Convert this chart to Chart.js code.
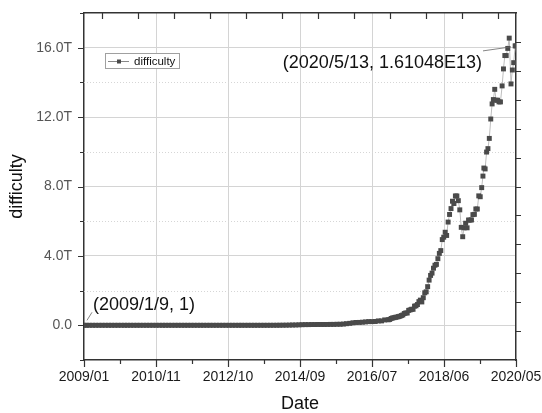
<!DOCTYPE html>
<html>
<head>
<meta charset="utf-8">
<title>difficulty</title>
<script src="https://cdn.jsdelivr.net/npm/chart.js@4.4.1/dist/chart.umd.min.js"></script>
<style>
  html, body { margin:0; padding:0; background:#fff; }
  canvas { display:block; }
</style>
</head>
<body>
<canvas id="ch" width="542" height="413"></canvas>
<script>
// ── data (difficulty in T = 1e12) ──────────────────────────────────────────
const dates = [
  '2009-01-09','2009-02-01','2009-03-01','2009-04-01','2009-05-01','2009-06-01','2009-07-01','2009-08-01','2009-09-01','2009-10-01','2009-11-01','2009-12-01',
  '2010-01-01','2010-02-01','2010-03-01','2010-04-01','2010-05-01','2010-06-01','2010-07-01','2010-08-01','2010-09-01','2010-10-01','2010-11-01','2010-12-01',
  '2011-01-01','2011-02-01','2011-03-01','2011-04-01','2011-05-01','2011-06-01','2011-07-01','2011-08-01','2011-09-01','2011-10-01','2011-11-01','2011-12-01',
  '2012-01-01','2012-02-01','2012-03-01','2012-04-01','2012-05-01','2012-06-01','2012-07-01','2012-08-01','2012-09-01','2012-10-01','2012-11-01','2012-12-01',
  '2013-01-01','2013-02-01','2013-03-01','2013-04-01','2013-05-01','2013-06-01','2013-07-01','2013-08-01','2013-09-01','2013-10-01','2013-11-01','2013-12-01',
  '2014-01-01','2014-02-01','2014-03-01','2014-04-01','2014-05-01','2014-06-01','2014-07-01','2014-08-01','2014-09-01','2014-10-01','2014-11-01','2014-12-01',
  '2015-01-01','2015-02-01','2015-03-01','2015-04-01','2015-05-01','2015-06-01','2015-07-01','2015-08-01','2015-09-01','2015-10-01','2015-11-01','2015-12-01',
  '2016-01-01','2016-02-01','2016-03-01','2016-04-01','2016-05-01','2016-06-01','2016-07-01','2016-08-01','2016-09-01','2016-10-01','2016-11-01','2016-12-01',
  '2017-01-04','2017-01-18','2017-02-01','2017-02-15','2017-03-01','2017-03-15','2017-03-29','2017-04-12','2017-04-26','2017-05-10','2017-05-24','2017-06-07','2017-06-21',
  '2017-07-05','2017-07-19','2017-08-02','2017-08-16','2017-08-30','2017-09-13','2017-09-27','2017-10-11','2017-10-25','2017-11-08','2017-11-22','2017-12-06','2017-12-20',
  '2018-01-03','2018-01-17','2018-01-31','2018-02-14','2018-02-28','2018-03-14','2018-03-28','2018-04-11','2018-04-25','2018-05-09','2018-05-23','2018-06-06','2018-06-20',
  '2018-07-04','2018-07-18','2018-08-01','2018-08-15','2018-08-29','2018-09-12','2018-09-26','2018-10-10','2018-10-24','2018-11-07','2018-11-21','2018-12-05','2018-12-19',
  '2019-01-02','2019-01-16','2019-01-30','2019-02-13','2019-02-27','2019-03-13','2019-03-27','2019-04-10','2019-04-24','2019-05-08','2019-05-22','2019-06-05','2019-06-19',
  '2019-07-01','2019-07-10','2019-07-22','2019-08-05','2019-08-18','2019-08-31','2019-09-14','2019-09-27','2019-10-09','2019-10-22','2019-11-04','2019-11-18','2019-12-02','2019-12-16',
  '2020-01-01','2020-01-14','2020-01-27','2020-02-09','2020-02-24','2020-03-09','2020-03-26','2020-04-08','2020-04-21','2020-05-05','2020-05-13'
];
const difficulty = [
  1e-12,0,0,0,0,0,0,0,0,0,0,0,
  0,0,0,0,0,0,0,0,0,0,0,0,
  0,0,0,0,0,0,0,0,0,0,0,0,
  0,0,0,0,0,0,0,0,0,0,0,0,
  0,0,0,0,0,0,0.00003,0.00005,0.0001,0.0002,0.0005,0.0009,
  0.0014,0.0022,0.0038,0.0061,0.008,0.0118,0.017,0.019,0.027,0.035,0.04,0.04,
  0.044,0.044,0.047,0.047,0.047,0.049,0.052,0.052,0.059,0.06,0.072,0.093,
  0.113,0.144,0.163,0.166,0.178,0.196,0.213,0.213,0.22,0.253,0.254,0.31,
  0.317,0.337,0.393,0.423,0.44,0.461,0.476,0.5,0.521,0.56,0.596,0.678,0.711,
  0.708,0.86,0.888,0.924,0.922,1.103,1.124,1.197,1.365,1.452,1.347,1.591,1.874,
  1.931,2.228,2.604,2.874,3.008,3.291,3.462,3.511,3.84,4.144,4.306,4.94,5.078,
  5.363,5.178,5.95,6.389,6.727,7.152,7.02,7.455,7.455,7.184,6.654,5.646,5.106,
  5.618,5.883,5.619,6.069,6.062,6.072,6.379,6.394,6.705,6.702,7.46,7.41,7.935,
  8.6,9.064,9.013,9.986,10.183,10.772,11.89,12.76,13.01,13.6,12.973,12.973,12.876,12.877,
  13.798,14.777,15.547,15.546,15.959,16.552,13.912,14.715,15.138,16.105,16.1048
];
const xTickLabels = ['2009/01','2010/11','2012/10','2014/09','2016/07','2018/06','2020/05'];
const yTickLabels = ['0.0','4.0T','8.0T','12.0T','16.0T'];
const seriesName = 'difficulty';
const firstNote = '(2009/1/9, 1)';
const lastNote = '(2020/5/13, 1.61048E13)';

const FONT = "'Liberation Sans', Arial, sans-serif";
const xMin = Date.parse(dates[0]);
const xMax = Date.parse(dates[dates.length - 1]);
const points = dates.map((d, i) => ({ x: Date.parse(d), y: difficulty[i] }));

// fixed box sizes so the plot frame sits where the original has it
const noPad = s => { s.paddingLeft = s.paddingRight = s.paddingTop = s.paddingBottom = 0; };

// ── dotted minor grid ─────────────────────────────────────────────────────
const minorGrid = {
  id: 'minorGrid',
  beforeDatasetsDraw(chart) {
    const { ctx, chartArea: ca, scales: { y } } = chart;
    ctx.save();
    ctx.strokeStyle = '#d6d6d6'; ctx.lineWidth = 1; ctx.setLineDash([1, 2]);
    ctx.beginPath();
    y.ticks.forEach(t => {
      if (t.value % 4 === 0 || t.value <= y.min || t.value >= y.max) return;
      const p = Math.round(y.getPixelForValue(t.value)) + 0.5;
      ctx.moveTo(ca.left, p); ctx.lineTo(ca.right, p);
    });
    ctx.stroke();
    ctx.restore();
  }
};

// ── tick marks on all four sides ───────────────────────────────────────────
const tickMarks = {
  id: 'tickMarks',
  afterDraw(chart) {
    const { ctx, scales: { x, y, x2, y2 } } = chart;
    const px = (s, v) => Math.round(s.getPixelForValue(v)) + 0.5;
    ctx.save();
    ctx.strokeStyle = '#333'; ctx.lineWidth = 1.2;
    ctx.beginPath();
    x.ticks.forEach((t, i) => { const p = px(x, t.value); ctx.moveTo(p, x.top); ctx.lineTo(p, x.top + (i % 2 ? 4 : 7)); });
    y.ticks.forEach(t => { const p = px(y, t.value); ctx.moveTo(y.right, p); ctx.lineTo(y.right - (t.value % 4 ? 4 : 6), p); });
    x2.ticks.forEach(t => { const p = px(x2, t.value); ctx.moveTo(p, x2.bottom); ctx.lineTo(p, x2.bottom + 6); });
    y2.ticks.forEach(t => { const p = px(y2, t.value); ctx.moveTo(y2.left, p); ctx.lineTo(y2.left + 5, p); });
    ctx.stroke();
    ctx.restore();
  }
};

// ── point labels ──────────────────────────────────────────────────────────
const notes = {
  id: 'notes',
  afterDatasetsDraw(chart) {
    const { ctx } = chart;
    const pts = chart.getDatasetMeta(0).data;
    const a = pts[0], b = pts[pts.length - 1];
    ctx.save();
    ctx.strokeStyle = '#666'; ctx.lineWidth = 0.8;
    ctx.beginPath();
    ctx.moveTo(a.x + 3, a.y - 5); ctx.lineTo(a.x + 8, a.y - 13);
    ctx.moveTo(b.x - 5, b.y + 1); ctx.lineTo(b.x - 33, b.y + 5);
    ctx.stroke();
    ctx.fillStyle = '#111'; ctx.font = '18px ' + FONT; ctx.textBaseline = 'alphabetic';
    ctx.textAlign = 'left';  ctx.fillText(firstNote, a.x + 9, a.y - 15);
    ctx.textAlign = 'right'; ctx.fillText(lastNote, b.x - 34, b.y + 22);
    ctx.restore();
  }
};

// ── boxed legend inside the plot ───────────────────────────────────────────
const boxLegend = {
  id: 'boxLegend',
  afterDraw(chart) {
    const { ctx, chartArea: ca } = chart;
    const ds = chart.data.datasets[0];
    const l = ca.left + 21, t = ca.top + 40;
    ctx.save();
    ctx.fillStyle = '#fff'; ctx.fillRect(l, t, 74, 15);
    ctx.strokeStyle = '#a0a0a0'; ctx.lineWidth = 1; ctx.strokeRect(l + 0.5, t + 0.5, 74, 15);
    ctx.strokeStyle = '#888'; ctx.beginPath(); ctx.moveTo(l + 3, t + 8.5); ctx.lineTo(l + 24, t + 8.5); ctx.stroke();
    ctx.fillStyle = ds.pointBackgroundColor; ctx.fillRect(l + 12, t + 6.5, 4, 4);
    ctx.fillStyle = '#111'; ctx.font = '11.5px ' + FONT; ctx.textBaseline = 'middle'; ctx.textAlign = 'left';
    ctx.fillText(ds.label, l + 29, t + 8.5);
    ctx.restore();
  }
};

new Chart(document.getElementById('ch').getContext('2d'), {
  type: 'line',
  data: {
    datasets: [{
      label: seriesName, data: points,
      borderColor: '#bdbdbd', borderWidth: 1, tension: 0,
      pointStyle: 'rect', pointRadius: 3.5, pointHoverRadius: 3.5,
      pointBackgroundColor: '#4a4a4a', pointBorderWidth: 0
    }]
  },
  options: {
    responsive: false, animation: false, devicePixelRatio: 1,
    layout: { padding: 0 },
    plugins: { legend: { display: false }, tooltip: { enabled: false } },
    scales: {
      x: {
        type: 'linear', position: 'bottom', min: xMin, max: xMax,
        afterBuildTicks: s => { s.ticks = Array.from({ length: 13 }, (_, i) => ({ value: xMin + i * (xMax - xMin) / 12 })); },
        afterFit: s => { s.height = 53; noPad(s); },
        grid: { color: c => (c.index % 2 === 0 && c.index > 0 && c.index < 12) ? '#d4d4d4' : 'rgba(0,0,0,0)', drawTicks: false },
        border: { color: '#333', width: 1.5 },
        ticks: { autoSkip: false, maxRotation: 0, padding: 9, color: '#1a1a1a', font: { family: FONT, size: 14 },
                 callback: (v, i) => i % 2 ? '' : xTickLabels[i / 2] },
        title: { display: true, text: 'Date', color: '#111', font: { family: FONT, size: 18, lineHeight: 1 }, padding: { top: 0, bottom: 0 } }
      },
      y: {
        type: 'linear', position: 'left', min: -2, max: 18,
        afterFit: s => { s.width = 84; noPad(s); },
        grid: { color: c => (c.tick && c.tick.value % 4 === 0) ? '#d4d4d4' : 'rgba(0,0,0,0)', drawTicks: false },
        border: { color: '#333', width: 1.5 },
        ticks: { stepSize: 2, padding: 12, color: '#555', font: { family: FONT, size: 14 },
                 callback: v => (v % 4 === 0 && v >= 0 && v <= 16) ? yTickLabels[v / 4] : '' },
        title: { display: true, text: 'difficulty', color: '#111', font: { family: FONT, size: 18, lineHeight: 1 }, padding: { top: 8, bottom: 0 } }
      },
      x2: {
        type: 'linear', position: 'top', min: -0.5, max: 11.5,
        afterBuildTicks: s => { s.ticks = Array.from({ length: 12 }, (_, i) => ({ value: i })); },
        afterFit: s => { s.height = 13; noPad(s); },
        grid: { drawOnChartArea: false, drawTicks: false },
        border: { color: '#333', width: 1.5 },
        ticks: { display: false }
      },
      y2: {
        type: 'linear', position: 'right', min: 0, max: 12,
        afterBuildTicks: s => { s.ticks = Array.from({ length: 11 }, (_, i) => ({ value: i + 1 })); },
        afterFit: s => { s.width = 26; noPad(s); },
        grid: { drawOnChartArea: false, drawTicks: false },
        border: { color: '#333', width: 1.5 },
        ticks: { display: false }
      }
    }
  },
  plugins: [minorGrid, notes, tickMarks, boxLegend]
});
</script>
</body>
</html>
